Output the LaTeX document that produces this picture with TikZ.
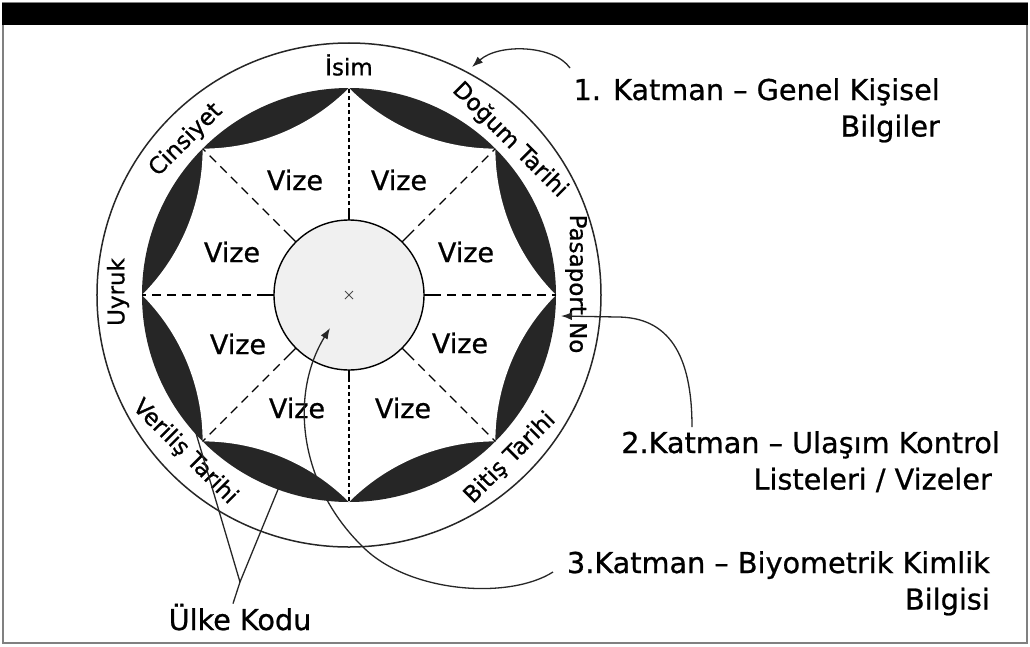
\documentclass[tikz,border=0pt]{standalone}
\usepackage{fontspec}
\setmainfont[FakeBold=0.8]{DejaVu Sans}
\usepackage{tikz}
\usetikzlibrary{arrows.meta, shapes.misc}

\begin{document}
\begin{tikzpicture}[x=1pt, y=1pt,
		cross/.style={draw, cross out, minimum size=#1, inner sep=0pt, outer sep=0pt},
		>={Latex[length=11pt,width=8pt]},   %Pfeilspitzen
		lbl/.style={font=\fontsize{23}{27}\selectfont, inner sep=0pt},
		vize/.style={font=\fontsize{27}{30}\selectfont, inner sep=0pt},
		katman/.style={font=\fontsize{28.7}{36.5}\selectfont, align=right, inner sep=0pt},
		zeiger/.style={->, line width=1.3pt, color=black!85}]
		%Rahmen
		\useasboundingbox (-349,-351) rectangle (681,295);
		\fill[white] (-349,-351) rectangle (681,295);
		\draw[line width=2pt, color=gray] (-346,-348) rectangle (678,292);
		\fill[black] (-347,292) rectangle (679,270);
		% Kreise zeichnen
		\draw[line width=1.5pt, black!85] (0,0) circle [radius=252];
		\fill[black!85] (0,0) circle [radius=207];
		\fill[white] (0:207) \foreach \t in {0,45,...,315} {arc[start angle=\t+225, end angle=\t+180, radius=207]} -- cycle;
		% Trennlinien
		\foreach \a in {0,45,...,315} \draw[line width=1.3pt] (\a:75) -- (\a:83);
		\foreach \a in {0,45,135,180,225,315} \draw[dash pattern=on 9pt off 6pt, line width=1.4pt] (\a:83) -- (\a:207);
		\foreach \a in {90,270} \draw[dash pattern=on 4pt off 3pt, line width=1.5pt] (\a:83) -- (\a:207);
		\draw[line width=1.4pt, fill=gray!12] (0,0) circle [radius=75];
		\node[cross=8pt, line width=1pt, gray!60!black] (ctr) at (0,0) {};
		% Vizen
		\foreach \x/\y [count=\i] in {-54/115, 50/115, -117/43, 117/43, -111/-49, 111/-48, -52/-113, 54/-113}
			\node[vize] (v\i) at (\x,\y) {Vize};
		% Beschriftung am Rand
		\node[lbl] (isim) at (0,230) {İsim};
		\node[lbl, rotate=-45] (dogum) at (161,155) {Doğum Tarihi};
		\node[lbl, rotate=-90] (pasaport) at (227,11) {Pasaport No};
		\node[lbl, rotate=45] (bitis) at (161,-163) {Bitiş Tarihi};
		\node[lbl, rotate=-45] (verilis) at (-164,-157) {Veriliş Tarihi};
		\node[lbl, rotate=90] (uyruk) at (-231,3) {Uyruk};
		\node[lbl, rotate=45] (cinsiyet) at (-163,155) {Cinsiyet};
		% Katmanlar
		\node[katman, anchor=north east] (k1) at (591,217) {1. Katman – Genel Kişisel\\Bilgiler};
		\node[katman, anchor=north east] (k2) at (651,-136) {2.Katman – Ulaşım Kontrol\\Listeleri / Vizeler\hspace*{8pt}};
		\node[katman, anchor=north east] (k3) at (641,-256) {3.Katman – Biyometrik Kimlik\\Bilgisi};
		\node[katman, anchor=base] (ulke) at (-109,-335) {Ülke Kodu};
		% Pfeile
		\coordinate (s1) at (221,227);
		\coordinate (p1) at (123,228);
		\draw[zeiger] (s1) .. controls (205,250) and (150,252) .. (p1);
		\coordinate (s2) at (343,-132);
		\coordinate (p2) at (212,-21);
		\draw[zeiger] (s2) .. controls (343,-60) and (320,-22) .. (268,-22) -- (p2);
		\coordinate (s3) at (204,-277);
		\coordinate (bio) at (-19,-33);
		\draw[zeiger] (s3) .. controls (160,-305) and (60,-298) .. (14,-252) .. controls (-50,-190) and (-60,-100) .. (bio);
		\coordinate (uk) at (-109,-287);
		\coordinate (ul1) at (-169,-84);
		\coordinate (ul2) at (-63,-175);
		\draw[line width=1.3pt, black!85] ([xshift=-7pt]ulke.north) -- (uk);
		\draw[zeiger] (uk) -- (ul1);
		\draw[zeiger] (uk) -- (ul2);
	\end{tikzpicture}
\end{document}
